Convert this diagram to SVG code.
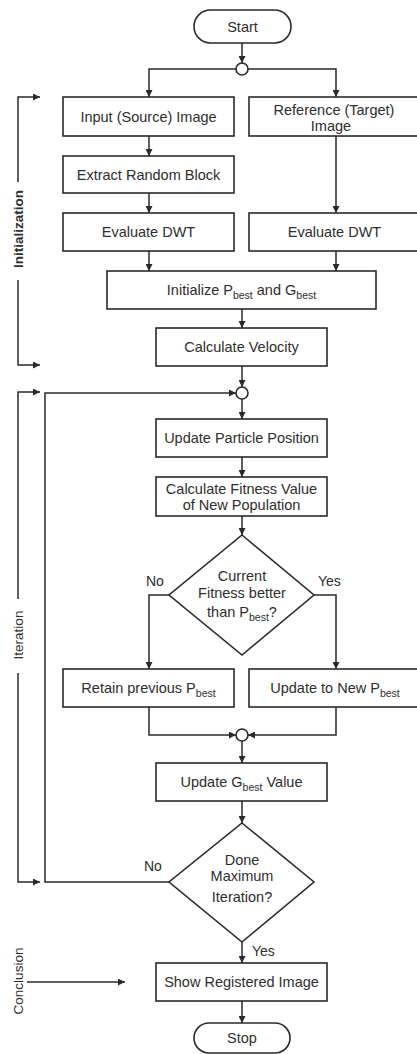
<svg xmlns="http://www.w3.org/2000/svg" width="417" height="1054" viewBox="0 0 417 1054">
<defs>
<marker id="ah" viewBox="0 0 10 10" refX="10" refY="5" markerUnits="userSpaceOnUse" markerWidth="8" markerHeight="7" orient="auto">
<path d="M0,0 L10,5 L0,10 z" fill="#2a2a2a"/>
</marker>
<style>
.box{fill:#fff;stroke:#2a2a2a;stroke-width:1.6}
.ln{fill:none;stroke:#2a2a2a;stroke-width:1.5}
.t{font-family:"Liberation Sans",Arial,sans-serif;font-size:14.5px;fill:#2e2e2e;text-anchor:middle}
.s{font-size:10.5px}
.side{font-family:"Liberation Sans",Arial,sans-serif;font-size:13.5px;fill:#2e2e2e;text-anchor:middle}
.lab{font-family:"Liberation Sans",Arial,sans-serif;font-size:14px;fill:#2e2e2e}
</style>
</defs>
<rect width="417" height="1054" fill="#fff"/>

<g id="connectors">
<path class="ln" d="M242,43 V63" marker-end="url(#ah)"/>
<path class="ln" d="M236,69 H149 V97" marker-end="url(#ah)"/>
<path class="ln" d="M248,69 H336 V97" marker-end="url(#ah)"/>
<path class="ln" d="M149,136 V156" marker-end="url(#ah)"/>
<path class="ln" d="M149,193 V213" marker-end="url(#ah)"/>
<path class="ln" d="M336,136 V213" marker-end="url(#ah)"/>
<path class="ln" d="M149,251 V271" marker-end="url(#ah)"/>
<path class="ln" d="M336,251 V271" marker-end="url(#ah)"/>
<path class="ln" d="M242,309 V328" marker-end="url(#ah)"/>
<path class="ln" d="M242,366 V387" marker-end="url(#ah)"/>
<path class="ln" d="M169,882 H45 V393 H236" marker-end="url(#ah)"/>
<path class="ln" d="M242,399 V419" marker-end="url(#ah)"/>
<path class="ln" d="M242,457 V477" marker-end="url(#ah)"/>
<path class="ln" d="M242,516 V535" marker-end="url(#ah)"/>
<path class="ln" d="M169,595 H149 V669" marker-end="url(#ah)"/>
<path class="ln" d="M314,595 H336 V669" marker-end="url(#ah)"/>
<path class="ln" d="M149,707 V735 H236" marker-end="url(#ah)"/>
<path class="ln" d="M336,707 V735 H248" marker-end="url(#ah)"/>
<path class="ln" d="M242,741 V763" marker-end="url(#ah)"/>
<path class="ln" d="M242,801 V823" marker-end="url(#ah)"/>
<path class="ln" d="M242,942 V963" marker-end="url(#ah)"/>
<path class="ln" d="M242,1001 V1023" marker-end="url(#ah)"/>
<!-- phase brackets -->
<path class="ln" d="M18,182 V97 H40" marker-end="url(#ah)"/>
<path class="ln" d="M18,280 V365 H40" marker-end="url(#ah)"/>
<path class="ln" d="M18,599 V392 H40" marker-end="url(#ah)"/>
<path class="ln" d="M18,673 V882 H40" marker-end="url(#ah)"/>
<path class="ln" d="M27,982 H125" marker-end="url(#ah)"/>
</g>

<g id="junction1"><circle class="box" cx="242" cy="69" r="6"/></g>
<g id="junction2"><circle class="box" cx="242" cy="393" r="6"/></g>
<g id="junction3"><circle class="box" cx="242" cy="735" r="6"/></g>

<g id="start">
<rect class="box" x="194" y="10" width="97" height="33" rx="16.5"/>
<text class="t" x="242.5" y="31.5">Start</text>
</g>
<g id="input">
<rect class="box" x="63" y="97" width="171" height="39"/>
<text class="t" x="148.5" y="121.5">Input (Source) Image</text>
</g>
<g id="reference">
<rect class="box" x="249" y="97" width="172" height="39"/>
<text class="t" x="334" y="115">Reference (Target)</text>
<text class="t" x="331" y="131">Image</text>
</g>
<g id="extract">
<rect class="box" x="63" y="156" width="171" height="37"/>
<text class="t" x="148.5" y="179.5">Extract Random Block</text>
</g>
<g id="dwt-left">
<rect class="box" x="63" y="213" width="171" height="38"/>
<text class="t" x="148.5" y="237">Evaluate DWT</text>
</g>
<g id="dwt-right">
<rect class="box" x="249" y="213" width="172" height="38"/>
<text class="t" x="334.5" y="237">Evaluate DWT</text>
</g>
<g id="initialize">
<rect class="box" x="107" y="271" width="269" height="38"/>
<text class="t" x="241.5" y="295">Initialize P<tspan class="s" dy="4">best</tspan><tspan dy="-4"> and G</tspan><tspan class="s" dy="4">best</tspan></text>
</g>
<g id="velocity">
<rect class="box" x="156" y="328" width="171" height="38"/>
<text class="t" x="241.5" y="352">Calculate Velocity</text>
</g>
<g id="position">
<rect class="box" x="156" y="419" width="171" height="38"/>
<text class="t" x="241.5" y="443">Update Particle Position</text>
</g>
<g id="fitness">
<rect class="box" x="156" y="477" width="171" height="39"/>
<text class="t" x="241.5" y="494">Calculate Fitness Value</text>
<text class="t" x="241.5" y="510">of New Population</text>
</g>
<g id="decision1">
<polygon class="box" points="242,535 314,595 242,655 169,595"/>
<text class="t" x="242" y="581">Current</text>
<text class="t" x="242" y="598">Fitness better</text>
<text class="t" x="242" y="617">than P<tspan class="s" dy="4">best</tspan><tspan dy="-4">?</tspan></text>
<text class="lab" x="146" y="586">No</text>
<text class="lab" x="318" y="586">Yes</text>
</g>
<g id="retain">
<rect class="box" x="63" y="669" width="171" height="38"/>
<text class="t" x="148.5" y="693">Retain previous P<tspan class="s" dy="4">best</tspan></text>
</g>
<g id="update-pbest">
<rect class="box" x="249" y="669" width="172" height="38"/>
<text class="t" x="335" y="693">Update to New P<tspan class="s" dy="4">best</tspan></text>
</g>
<g id="update-gbest">
<rect class="box" x="156" y="763" width="171" height="38"/>
<text class="t" x="241.5" y="787">Update G<tspan class="s" dy="4">best</tspan><tspan dy="-4"> Value</tspan></text>
</g>
<g id="decision2">
<polygon class="box" points="242,823 314,882 242,942 169,882"/>
<text class="t" x="242" y="865">Done</text>
<text class="t" x="242" y="881">Maximum</text>
<text class="t" x="242" y="902">Iteration?</text>
<text class="lab" x="144" y="871">No</text>
<text class="lab" x="252" y="956">Yes</text>
</g>
<g id="show">
<rect class="box" x="156" y="963" width="171" height="38"/>
<text class="t" x="241.5" y="987">Show Registered Image</text>
</g>
<g id="stop">
<rect class="box" x="194" y="1023" width="96" height="30" rx="15"/>
<text class="t" x="242" y="1043">Stop</text>
</g>

<g id="phase-labels">
<text class="side" font-weight="bold" transform="translate(23,229) rotate(-90)">Initialization</text>
<text class="side" transform="translate(23,635) rotate(-90)">Iteration</text>
<text class="side" transform="translate(23,981) rotate(-90)">Conclusion</text>
</g>
</svg>
